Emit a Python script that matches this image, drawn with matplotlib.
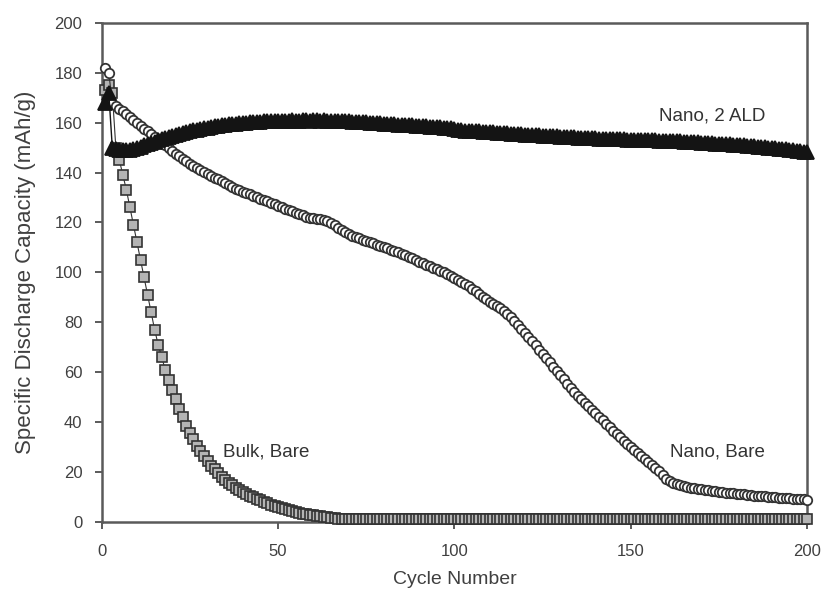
import numpy as np
import matplotlib
matplotlib.use("Agg")
import matplotlib.pyplot as plt

plt.rcParams['font.family'] = ['Liberation Sans', 'DejaVu Sans']

# discharge capacity (mAh/g) for every cycle 1..200
bulk_bare = [
    173, 175, 172, 150, 145, 139, 133, 126, 119, 112,
    105, 98, 91, 84, 77, 71, 66, 61, 57, 53,
    49, 45, 42, 38.5, 35.5, 33, 30.5, 28.5, 26.5, 24.5,
    22.5, 21, 19.5, 18, 16.8, 15.6, 14.6, 13.6, 12.7, 11.9,
    11.1, 10.4, 9.7, 9.1, 8.5, 7.9, 7.3, 6.8, 6.3, 5.8,
    5.3, 4.9, 4.5, 4.1, 3.8, 3.5, 3.2, 2.9, 2.7, 2.5,
    2.3, 2.1, 1.9, 1.7, 1.5, 1.3, 1.2, 1.1, 1.1, 1.1,
    1.1, 1.1, 1.1, 1.1, 1.1, 1.1, 1.1, 1.1, 1.1, 1.1,
    1.1, 1.1, 1.1, 1.1, 1.1, 1.1, 1.1, 1.1, 1.1, 1.1,
    1.1, 1.1, 1.1, 1.1, 1.1, 1.1, 1.1, 1.1, 1.1, 1.1,
    1.1, 1.1, 1.1, 1.1, 1.1, 1.1, 1.1, 1.1, 1.1, 1.1,
    1.1, 1.1, 1.1, 1.1, 1.1, 1.1, 1.1, 1.1, 1.1, 1.1,
    1.1, 1.1, 1.1, 1.1, 1.1, 1.1, 1.1, 1.1, 1.1, 1.1,
    1.1, 1.1, 1.1, 1.1, 1.1, 1.1, 1.1, 1.1, 1.1, 1.1,
    1.1, 1.1, 1.1, 1.1, 1.1, 1.1, 1.1, 1.1, 1.1, 1.1,
    1.1, 1.1, 1.1, 1.1, 1.1, 1.1, 1.1, 1.1, 1.1, 1.1,
    1.1, 1.1, 1.1, 1.1, 1.1, 1.1, 1.1, 1.1, 1.1, 1.1,
    1.1, 1.1, 1.1, 1.1, 1.1, 1.1, 1.1, 1.1, 1.1, 1.1,
    1.1, 1.1, 1.1, 1.1, 1.1, 1.1, 1.1, 1.1, 1.1, 1.1,
    1.1, 1.1, 1.1, 1.1, 1.1, 1.1, 1.1, 1.1, 1.1, 1.1,
]

nano_bare = [
    182, 180, 168, 166.5, 165.5, 164.5, 163.5, 162.3, 161.2, 160,
    158.8, 157.6, 156.5, 155.4, 154.3, 153.2, 152, 151, 149.8, 148.7,
    147.6, 146.6, 145.5, 144.5, 143.5, 142.6, 141.8, 141, 140.2, 139.4,
    138.7, 138, 137.3, 136.6, 135.8, 135, 134.3, 133.6, 133, 132.4,
    131.8, 131.3, 130.7, 130.1, 129.5, 129, 128.4, 127.8, 127.2, 126.7,
    126.1, 125.5, 125, 124.4, 123.9, 123.4, 122.8, 122.3, 121.9, 121.6,
    121.4, 121.3, 121.1, 120.6, 119.8, 118.9, 117.9, 116.9, 116, 115.3,
    114.7, 114.1, 113.6, 113.1, 112.6, 112.1, 111.6, 111.1, 110.6, 110.1,
    109.6, 109.1, 108.6, 108, 107.4, 106.8, 106.2, 105.6, 105, 104.3,
    103.6, 103, 102.4, 101.8, 101.2, 100.6, 100, 99.3, 98.6, 97.8,
    97, 96.2, 95.3, 94.4, 93.4, 92.4, 91.3, 90.2, 89.1, 88.2,
    87.3, 86.4, 85.5, 84.4, 83.2, 81.9, 80.5, 79, 77.4, 75.8,
    74.1, 72.4, 70.7, 69, 67.3, 65.6, 63.9, 62.2, 60.5, 58.8,
    57.1, 55.4, 53.8, 52.2, 50.6, 49, 47.6, 46.2, 44.8, 43.4,
    42, 40.6, 39.2, 37.8, 36.4, 35.1, 33.8, 32.5, 31.2, 29.9,
    28.7, 27.5, 26.3, 25.1, 23.9, 22.7, 21.5, 20.3, 18.8, 17.2,
    16.3, 15.6, 15.1, 14.7, 14.3, 14, 13.7, 13.5, 13.3, 13.1,
    12.9, 12.7, 12.5, 12.3, 12.1, 11.9, 11.7, 11.5, 11.3, 11.2,
    11, 10.9, 10.7, 10.6, 10.4, 10.3, 10.2, 10.1, 10, 9.8,
    9.7, 9.6, 9.5, 9.4, 9.3, 9.2, 9.1, 9, 8.9, 8.8,
]

nano_2ald = [
    168, 172, 150, 149.5, 149.2, 149, 149, 149.2, 149.5, 149.9,
    150.4, 150.9, 151.4, 151.9, 152.4, 152.9, 153.4, 153.8, 154.3, 154.7,
    155.1, 155.5, 155.9, 156.2, 156.6, 156.9, 157.2, 157.5, 157.8, 158,
    158.3, 158.5, 158.7, 158.9, 159.1, 159.3, 159.5, 159.6, 159.8, 159.9,
    160, 160.1, 160.2, 160.3, 160.4, 160.5, 160.5, 160.6, 160.6, 160.7,
    160.7, 160.8, 160.7, 160.9, 160.8, 160.8, 160.9, 161, 160.8, 160.9,
    161, 160.8, 160.9, 160.8, 160.7, 160.8, 160.6, 160.7, 160.5, 160.6,
    160.4, 160.4, 160.3, 160.2, 160.1, 160, 159.9, 159.8, 159.7, 159.6,
    159.5, 159.4, 159.3, 159.2, 159.1, 159.1, 159, 158.9, 158.8, 158.7,
    158.6, 158.5, 158.4, 158.3, 158.2, 158.1, 158, 157.9, 157.8, 157.5,
    157.1, 156.9, 156.8, 156.7, 156.6, 156.6, 156.5, 156.4, 156.3, 156.2,
    156.1, 156, 155.9, 155.8, 155.7, 155.6, 155.5, 155.4, 155.3, 155.2,
    155.1, 155, 155, 154.9, 154.8, 154.7, 154.6, 154.6, 154.5, 154.4,
    154.3, 154.2, 154.2, 154.1, 154, 153.9, 153.9, 153.8, 153.7, 153.7,
    153.6, 153.6, 153.5, 153.5, 153.4, 153.4, 153.3, 153.3, 153.2, 153.2,
    153.1, 153.1, 153, 153, 153, 152.9, 152.9, 152.8, 152.8, 152.8,
    152.7, 152.6, 152.6, 152.5, 152.4, 152.3, 152.3, 152.2, 152.1, 152,
    151.9, 151.8, 151.7, 151.6, 151.6, 151.5, 151.4, 151.3, 151.2, 151.1,
    151, 150.9, 150.8, 150.6, 150.5, 150.4, 150.2, 150.1, 150, 149.8,
    149.7, 149.5, 149.4, 149.3, 149.1, 149, 148.8, 148.6, 148.4, 148.2,
]

cycles = np.arange(1, len(nano_bare) + 1)

fig = plt.figure(figsize=(8.23, 5.9), dpi=100)
ax = fig.add_axes([0.1236, 0.1158, 0.8571, 0.8453])

edge = '#333333'
ax.plot(cycles, bulk_bare, marker='s', ms=6.5, mfc='#b4b4b4', mec=edge, mew=1.2,
        color=edge, lw=0.8, zorder=3, clip_on=False)
ax.plot(cycles, nano_bare, marker='o', ms=6.8, mfc='white', mec=edge, mew=1.3,
        color=edge, lw=0.8, zorder=4, clip_on=False)
ax.plot(cycles, nano_2ald, marker='^', ms=9.5, mfc='#141414', mec='#141414', mew=1.3,
        color='#141414', lw=1.0, zorder=5, clip_on=False)

ax.text(173, 162.7, 'Nano, 2 ALD', ha='center', va='center', fontsize=13.5, color='#333333')
ax.text(174.5, 28, 'Nano, Bare', ha='center', va='center', fontsize=13.5, color='#333333')
ax.text(46.5, 28, 'Bulk, Bare', ha='center', va='center', fontsize=13.5, color='#333333')

ax.set_xlim(0, 200)
ax.set_ylim(0, 200)
ax.set_xticks([0, 50, 100, 150, 200])
ax.set_yticks(range(0, 201, 20))

for s in ax.spines.values():
    s.set_color('#5a5a5a')
    s.set_linewidth(1.8)
ax.tick_params(direction='out', length=5, width=1.4, color='#5a5a5a',
               labelcolor='#404040', labelsize=12)
ax.tick_params(axis='x', pad=11)
ax.tick_params(axis='y', pad=9)

ax.set_xlabel('Cycle Number', fontsize=14, color='#404040', labelpad=9)
ax.set_ylabel('Specific Discharge Capacity (mAh/g)', fontsize=16, color='#404040', labelpad=13)

fig.savefig('out.png', dpi=100)
